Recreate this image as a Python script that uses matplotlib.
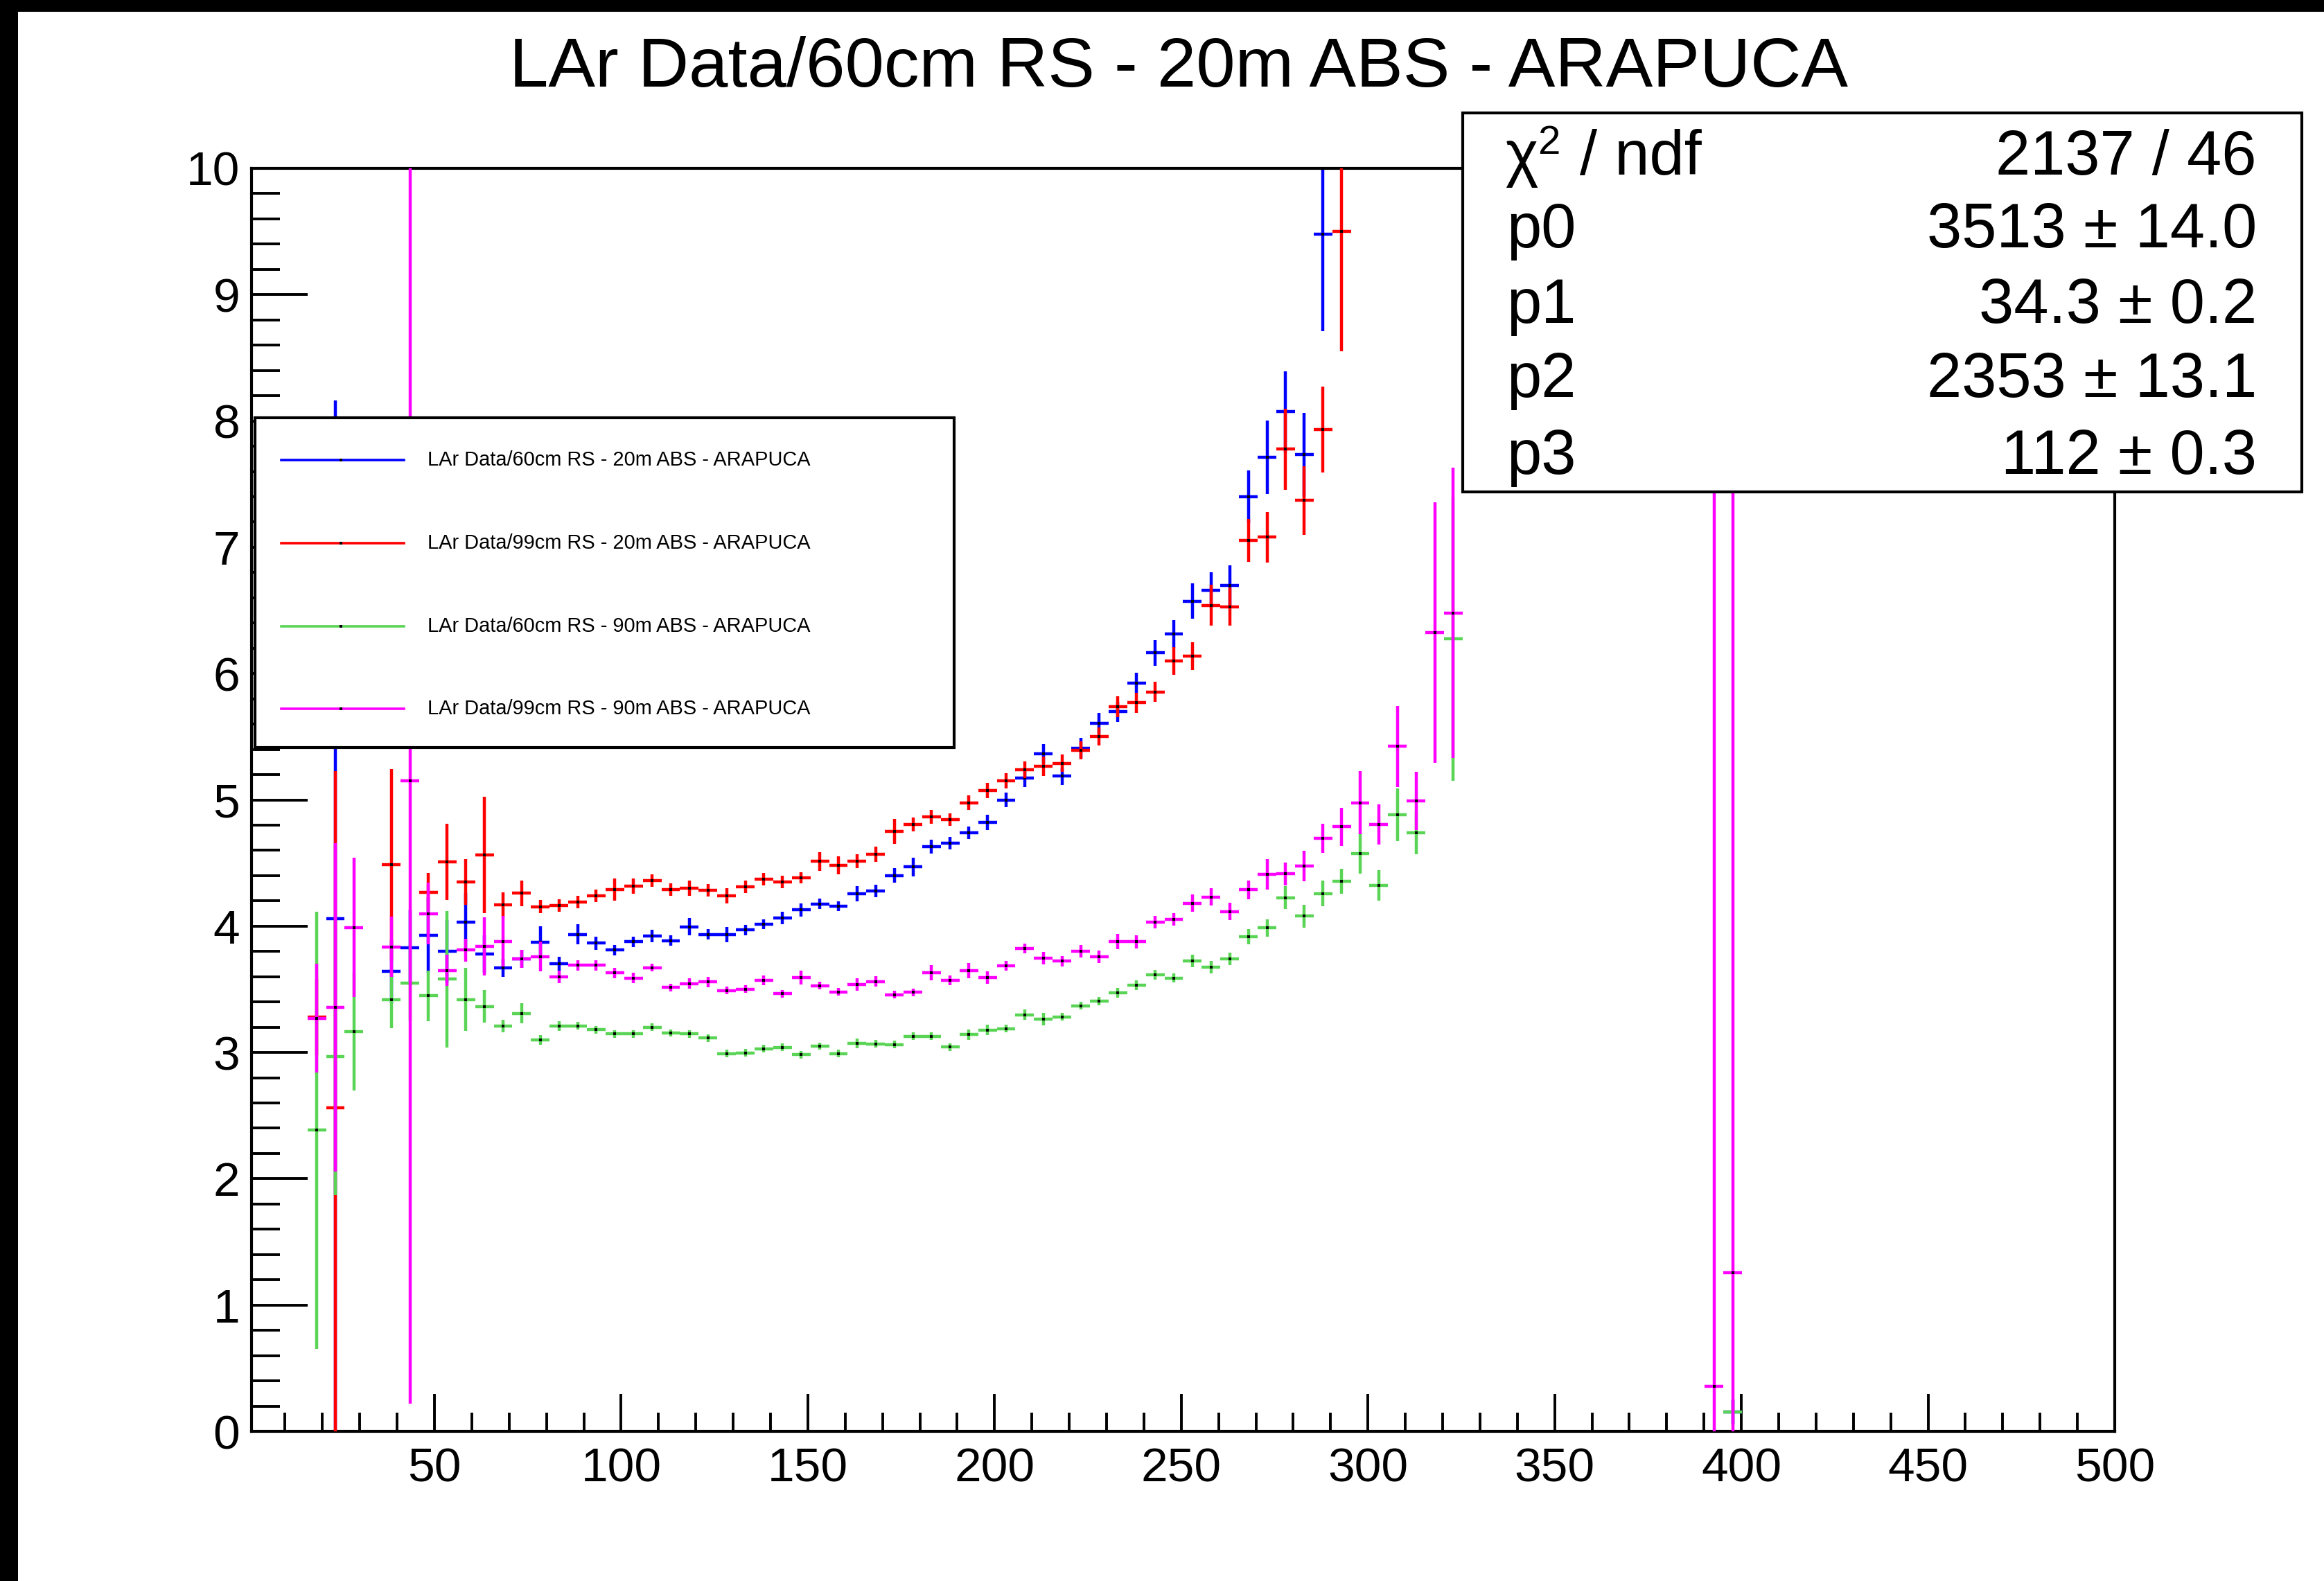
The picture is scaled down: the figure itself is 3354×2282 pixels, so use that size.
import numpy as np
import matplotlib
matplotlib.use("Agg")
import matplotlib.pyplot as plt
from matplotlib.patches import Rectangle
from matplotlib.lines import Line2D
from matplotlib.ticker import MultipleLocator

plt.rcParams['font.family'] = ['Liberation Sans', 'DejaVu Sans']

# ---------------- data ----------------
title = "LAr Data/60cm RS - 20m ABS - ARAPUCA"
labels = ["LAr Data/60cm RS - 20m ABS - ARAPUCA",
          "LAr Data/99cm RS - 20m ABS - ARAPUCA",
          "LAr Data/60cm RS - 90m ABS - ARAPUCA",
          "LAr Data/99cm RS - 90m ABS - ARAPUCA"]
colors = ["#0000ff", "#ff0000", "#59d454", "#ff00ff"]

# histogram binning: 100 bins from 1 to 500
hist_lo, hist_hi, hist_nbins = 1, 500, 100

# values per bin (consecutive bins from the given first bin index); None = empty bin
blue_first = 4
blue_val = [4.06, None, None, 3.64, 3.83, 3.93, 3.80, 4.03, 3.78, 3.67, 3.74, 3.87, 3.70, 3.935,
            3.865, 3.81, 3.877, 3.92, 3.885, 3.996, 3.935, 3.935, 3.97, 4.015, 4.065, 4.128,
            4.177, 4.157, 4.256, 4.28, 4.402, 4.468, 4.63, 4.659, 4.738, 4.821, 5.0, 5.174,
            5.365, 5.187, 5.41, 5.606, 5.697, 5.927, 6.164, 6.312, 6.573, 6.661, 6.699,
            7.401, 7.713, 8.072, 7.732, 9.48]
blue_err = [4.1, None, None, 0.25, 0.3, 0.3, 0.25, 0.23, 0.15, 0.07, 0.07, 0.13, 0.06, 0.08,
            0.05, 0.04, 0.04, 0.05, 0.04, 0.07, 0.04, 0.06, 0.04, 0.04, 0.05, 0.05,
            0.04, 0.04, 0.06, 0.05, 0.06, 0.075, 0.055, 0.05, 0.05, 0.06, 0.06, 0.07,
            0.075, 0.07, 0.08, 0.08, 0.08, 0.08, 0.10, 0.11, 0.14, 0.14, 0.16,
            0.21, 0.29, 0.32, 0.33, 0.77]
blue_extra_bin, blue_extra_val, blue_extra_err = [79], [0.154], [0.10]

red_first = 3
red_val = [3.28, 2.56, None, None, 4.485, None, 4.27, 4.51, 4.35, 4.565, 4.17, 4.26, 4.155,
           4.165, 4.19, 4.24, 4.29, 4.315, 4.36, 4.29, 4.30, 4.285, 4.24, 4.31, 4.37, 4.35,
           4.383, 4.512, 4.481, 4.512, 4.571, 4.75, 4.806, 4.868, 4.843, 4.978, 5.073,
           5.149, 5.24, 5.266, 5.29, 5.392, 5.502, 5.738, 5.77, 5.855, 6.10, 6.138, 6.541,
           6.529, 7.052, 7.08, 7.776, 7.37, 7.93, 9.5]
red_err = [0.3, 2.67, None, None, 0.76, None, 0.15, 0.3, 0.18, 0.46, 0.1, 0.1, 0.05,
           0.05, 0.05, 0.05, 0.09, 0.06, 0.05, 0.05, 0.06, 0.05, 0.06, 0.05, 0.05, 0.05,
           0.045, 0.075, 0.07, 0.055, 0.06, 0.10, 0.055, 0.055, 0.05, 0.055, 0.06,
           0.06, 0.065, 0.075, 0.07, 0.07, 0.07, 0.08, 0.08, 0.08, 0.11, 0.11, 0.16,
           0.15, 0.17, 0.20, 0.32, 0.27, 0.34, 0.95]

green_first = 3
green_val = [2.385, 2.97, 3.165, None, 3.42, 3.55, 3.45, 3.58, 3.42, 3.365, 3.21, 3.31, 3.10,
             3.21, 3.21, 3.18, 3.146, 3.146, 3.20, 3.154, 3.146, 3.115, 2.99, 2.996, 3.03,
             3.04, 2.982, 3.05, 2.99, 3.073, 3.068, 3.063, 3.129, 3.129, 3.043, 3.141,
             3.178, 3.188, 3.298, 3.264, 3.283, 3.369, 3.406, 3.472, 3.533, 3.614, 3.59,
             3.724, 3.675, 3.741, 3.918, 3.986, 4.226, 4.079, 4.259, 4.356, 4.574, 4.324,
             4.882, 4.739, None, 6.273]
green_err = [1.73, 1.1, 0.465, None, 0.23, 0.3, 0.2, 0.54, 0.25, 0.13, 0.05, 0.08, 0.04,
             0.04, 0.03, 0.03, 0.03, 0.03, 0.03, 0.03, 0.03, 0.03, 0.03, 0.03, 0.03,
             0.03, 0.03, 0.03, 0.03, 0.04, 0.03, 0.03, 0.03, 0.03, 0.03, 0.04,
             0.04, 0.03, 0.04, 0.05, 0.03, 0.03, 0.035, 0.04, 0.04, 0.04, 0.035,
             0.05, 0.05, 0.05, 0.06, 0.07, 0.09, 0.09, 0.10, 0.10, 0.16, 0.12,
             0.21, 0.17, None, 1.12]
green_extra_bin, green_extra_val, green_extra_err = [79], [0.154], [0.10]

magenta_first = 3
magenta_val = [3.27, 3.356, 3.99, None, 3.836, 5.15, 4.10, 3.65, 3.81, 3.84, 3.88, 3.74, 3.76,
               3.60, 3.69, 3.69, 3.63, 3.59, 3.67, 3.515, 3.546, 3.558, 3.49, 3.50, 3.57,
               3.465, 3.594, 3.528, 3.479, 3.54, 3.562, 3.457, 3.477, 3.631, 3.57, 3.648,
               3.594, 3.687, 3.824, 3.746, 3.722, 3.802, 3.758, 3.876, 3.876, 4.03, 4.055,
               4.182, 4.231, 4.116, 4.287, 4.41, 4.415, 4.475, 4.696, 4.787, 4.977, 4.807,
               5.423, 4.99, 6.325, 6.48]
magenta_err = [0.43, 1.3, 0.55, None, 0.24, 4.93, 0.245, 0.125, 0.09, 0.23, 0.2, 0.07, 0.12,
               0.05, 0.04, 0.04, 0.04, 0.04, 0.03, 0.03, 0.04, 0.04, 0.03, 0.03, 0.04,
               0.03, 0.055, 0.03, 0.03, 0.05, 0.04, 0.03, 0.03, 0.06, 0.04, 0.06,
               0.05, 0.04, 0.04, 0.05, 0.04, 0.05, 0.05, 0.06, 0.05, 0.05, 0.05,
               0.07, 0.07, 0.07, 0.075, 0.12, 0.09, 0.12, 0.115, 0.15, 0.25, 0.16,
               0.32, 0.23, 1.03, 1.15]
magenta_extra_bin, magenta_extra_val, magenta_extra_err = [78, 79], [0.357, 1.256], [9.0, 9.0]

fit_rows = [("p0", "3513 \u00b1 14.0"), ("p1", "34.3 \u00b1 0.2"),
            ("p2", "2353 \u00b1 13.1"), ("p3", "112 \u00b1 0.3")]
chi2_text = "2137 / 46"

xticks_major = [50, 100, 150, 200, 250, 300, 350, 400, 450, 500]

# ---------------- figure ----------------
W, H = 3355, 2282
fig = plt.figure(figsize=(W / 100, H / 100), dpi=100)
fig.patch.set_facecolor("white")

def fx(px):
    return px / W

def fy(py):
    return 1 - py / H

ax_l, ax_r, ax_t, ax_b = 363, 3052, 243, 2066
ax = fig.add_axes([fx(ax_l), fy(ax_b), fx(ax_r - ax_l), (ax_b - ax_t) / H])
ax.set_xlim(hist_lo, hist_hi)
ax.set_ylim(0, 10)

edges = np.linspace(hist_lo, hist_hi, hist_nbins + 1)
centers = 0.5 * (edges[:-1] + edges[1:])
halfw = 0.5 * (edges[1] - edges[0])

def collect(first, vals, errs, xb=(), xv=(), xe=()):
    xs, ys, es = [], [], []
    for i, (v, e) in enumerate(zip(vals, errs)):
        if v is None:
            continue
        xs.append(centers[first + i]); ys.append(v); es.append(e)
    for b, v, e in zip(xb, xv, xe):
        xs.append(centers[b]); ys.append(v); es.append(e)
    return np.array(xs), np.array(ys), np.array(es)

series = [
    collect(blue_first, blue_val, blue_err, blue_extra_bin, blue_extra_val, blue_extra_err),
    collect(red_first, red_val, red_err),
    collect(green_first, green_val, green_err, green_extra_bin, green_extra_val, green_extra_err),
    collect(magenta_first, magenta_val, magenta_err, magenta_extra_bin, magenta_extra_val, magenta_extra_err),
]

lw_err = 3.2
for i, ((xs, ys, es), col) in enumerate(zip(series, colors)):
    ax.errorbar(xs, ys, yerr=es, xerr=halfw, fmt='none', ecolor=col,
                elinewidth=lw_err, capsize=0, zorder=2 + 2 * i)
    ax.plot(xs, ys, 's', color='black', ms=3.4, mew=0, zorder=3 + 2 * i)

# axes styling (ROOT-like)
for sp in ax.spines.values():
    sp.set_linewidth(3.0)
ax.xaxis.set_major_locator(MultipleLocator(50))
ax.xaxis.set_minor_locator(MultipleLocator(10))
ax.yaxis.set_major_locator(MultipleLocator(1))
ax.yaxis.set_minor_locator(MultipleLocator(0.2))
ax.tick_params(axis='x', which='major', direction='in', length=39, width=2.8,
               labelsize=50, pad=16, top=False)
ax.tick_params(axis='x', which='minor', direction='in', length=19.5, width=2.8, top=False)
ax.tick_params(axis='y', which='major', direction='in', length=58, width=2.8,
               labelsize=50, pad=12, right=False)
ax.tick_params(axis='y', which='minor', direction='in', length=29.5, width=2.8, right=False)
ax.set_xticks(xticks_major)
ax.set_xticklabels([str(t) for t in xticks_major])

# black border strips
fig.patches.append(Rectangle((0, fy(17)), 1, 17 / H, transform=fig.transFigure,
                             facecolor='black', edgecolor='none', zorder=10))
fig.patches.append(Rectangle((0, 0), fx(26), 1, transform=fig.transFigure,
                             facecolor='black', edgecolor='none', zorder=10))

# title
fig.text(fx(1701), fy(125), title, ha='center', va='baseline', fontsize=73, zorder=11)

# legend box
lg_l, lg_r, lg_t, lg_b = 368, 1377, 603, 1079
fig.patches.append(Rectangle((fx(lg_l), fy(lg_b)), fx(lg_r - lg_l), (lg_b - lg_t) / H,
                             transform=fig.transFigure, facecolor='white',
                             edgecolor='black', linewidth=3.0, zorder=20))
for yy, lab, col in zip([664, 784, 904, 1023], labels, colors):
    fig.add_artist(Line2D([fx(406), fx(583)], [fy(yy), fy(yy)], transform=fig.transFigure,
                          color=col, lw=2.6, zorder=21))
    fig.add_artist(Line2D([fx(492)], [fy(yy)], transform=fig.transFigure, marker='s',
                          color='black', ms=3.0, mew=0, zorder=22))
    fig.text(fx(617), fy(yy), lab, ha='left', va='center', fontsize=20.9, zorder=22)

# stats box
sb_l, sb_r, sb_t, sb_b = 2111, 3322, 163, 710
fig.patches.append(Rectangle((fx(sb_l), fy(sb_b)), fx(sb_r - sb_l), (sb_b - sb_t) / H,
                             transform=fig.transFigure, facecolor='white',
                             edgecolor='black', linewidth=3.0, zorder=20))
fs = 65
fig.text(fx(2172), fy(252), "\u03c7", ha='left', va='baseline', fontsize=fs, zorder=22)
fig.text(fx(2219), fy(222), "2", ha='left', va='baseline', fontsize=42, zorder=22)
fig.text(fx(2280), fy(252), "/ ndf", ha='left', va='baseline', fontsize=fs, zorder=22)
fig.text(fx(3257), fy(252), chi2_text, ha='right', va='baseline', fontsize=fs, zorder=22)
for yy, (name, val) in zip([357, 466, 573, 684], fit_rows):
    fig.text(fx(2174), fy(yy), name, ha='left', va='baseline', fontsize=fs, zorder=22)
    fig.text(fx(3257), fy(yy), val, ha='right', va='baseline', fontsize=fs, zorder=22)

fig.savefig("out.png", dpi=100, facecolor='white')
